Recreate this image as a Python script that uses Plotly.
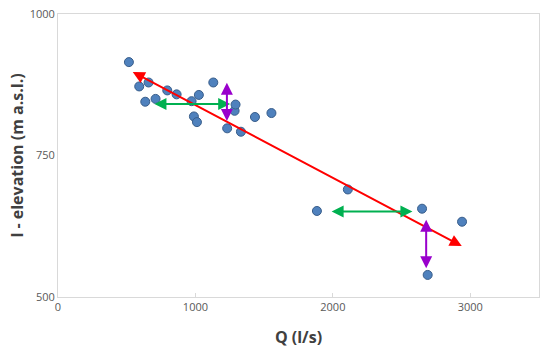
import plotly.graph_objects as go

# Data points (Q in l/s, elevation in m a.s.l.)
q_vals = [516, 591, 659, 635, 710, 795, 863, 972, 1025, 1130, 989, 1011,
          1231, 1331, 1285, 1292, 1433, 1553, 2109, 1884, 2649, 2940, 2690]
elev_vals = [915, 872, 879, 845, 850, 865, 858, 846, 857, 879, 819, 809,
             798, 792, 829, 840, 818, 825, 690, 652, 656, 633, 539]

# Arrows: (x_start, y_start, x_end, y_end, color)
arrow_x0 = [533, 691, 1229, 1980, 2679]
arrow_y0 = [899, 841, 881, 651, 639]
arrow_x1 = [2938, 1253, 1229, 2579, 2679]
arrow_y1 = [590, 841, 811, 651, 551]
arrow_colors = ["#FF0000", "#00B050", "#9900CC", "#00B050", "#9900CC"]

x_ticks = [0, 1000, 2000, 3000]
y_ticks = [500, 750, 1000]

fig = go.Figure()
fig.add_trace(go.Scatter(
    x=q_vals, y=elev_vals, mode="markers",
    marker=dict(size=9, color="#4F81BD", line=dict(color="#385D8A", width=1)),
    showlegend=False, hoverinfo="skip"))

for x0, y0, x1, y1, c in zip(arrow_x0, arrow_y0, arrow_x1, arrow_y1, arrow_colors):
    fig.add_annotation(x=x1, y=y1, ax=x0, ay=y0, xref="x", yref="y",
                       axref="x", ayref="y", text="", showarrow=True,
                       arrowhead=2, startarrowhead=2, arrowside="end+start",
                       arrowsize=1.2, startarrowsize=1.2, arrowwidth=2,
                       arrowcolor=c)

fig.update_layout(
    width=550, height=356,
    margin=dict(l=58, r=11, t=14, b=59),
    paper_bgcolor="white", plot_bgcolor="white",
    font=dict(family="Open Sans, Liberation Sans, sans-serif", color="#595959"),
    xaxis=dict(range=[0, 3500], tickvals=x_ticks, showgrid=False, automargin=False,
               showline=True, linecolor="#D9D9D9", linewidth=1, mirror=True,
               ticks="inside", ticklen=4, tickcolor="#D9D9D9",
               tickfont=dict(size=11, color="#595959"), zeroline=False,
               title=dict(text="<b>Q (l/s)</b>", standoff=18,
                          font=dict(size=16, color="#404040",
                                    family="Open Sans, Liberation Sans, sans-serif"))),
    yaxis=dict(range=[500, 1000], tickvals=y_ticks, showgrid=False, automargin=False,
               showline=True, linecolor="#D9D9D9", linewidth=1, mirror=True,
               ticks="", tickfont=dict(size=11, color="#595959"), zeroline=False,
               title=dict(text="<b>l - elevation (m a.s.l.)</b>", standoff=2,
                          font=dict(size=16, color="#404040",
                                    family="Open Sans, Liberation Sans, sans-serif"))),
)

fig.write_html("out.html", config={"displayModeBar": False},
               post_script="document.body.style.margin='0';")
